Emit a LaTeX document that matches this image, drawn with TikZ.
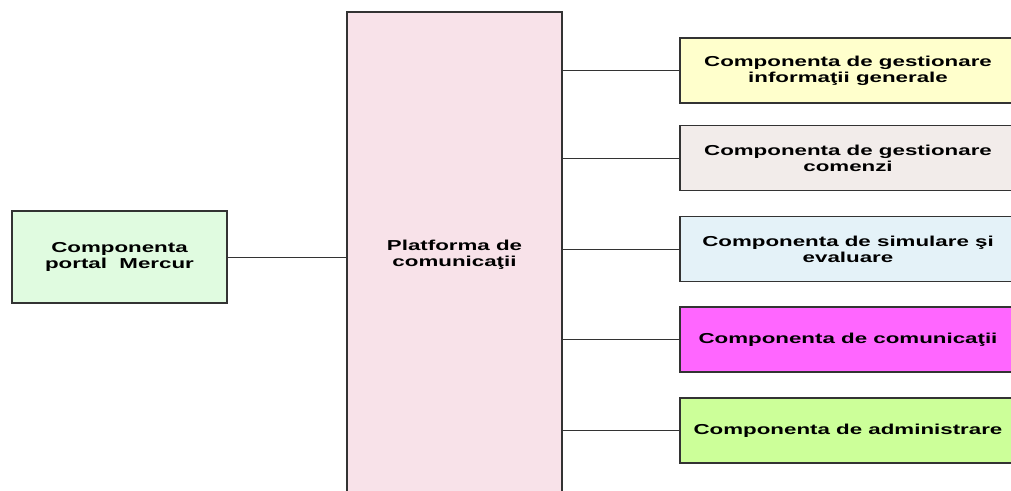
\documentclass[tikz,border=0pt]{standalone}
\usepackage{fontspec}
\newfontfamily\boxfont[FakeStretch=1.55]{Liberation Sans Bold}
\definecolor{cgreen}{HTML}{E0FBE0}
\definecolor{cpink}{HTML}{F8E2E9}
\definecolor{cyellow}{HTML}{FFFFCC}
\definecolor{cbeige}{HTML}{F2ECEA}
\definecolor{cblue}{HTML}{E4F2F8}
\definecolor{cmag}{HTML}{FF66FF}
\definecolor{clime}{HTML}{CCFF99}
\definecolor{cedge}{HTML}{333333}
\begin{document}
\begin{tikzpicture}[x=1pt,y=-1pt,
  comp/.style={draw=cedge, line width=1.4pt, rectangle, inner sep=0pt, align=center,
    font=\boxfont\fontsize{14.4}{16}\selectfont, text=black},
  link/.style={draw=cedge, line width=0.9pt}]
\useasboundingbox (0,0) rectangle (1011,490);
\clip (0,0) rectangle (1011,490);
\node[comp, fill=cgreen, minimum width=215pt, minimum height=92pt] (portal) at (119.5,257) {Componenta\\portal\ \ Mercur};
\node[comp, fill=cpink, minimum width=215pt, minimum height=486pt] (platf) at (454.5,255) {Platforma de\\comunica\c{t}ii};
\node[comp, fill=cyellow, minimum width=336pt, minimum height=65pt] (c1) at (848,70.5) {Componenta de gestionare\\informa\c{t}ii generale};
\node[comp, fill=cbeige, minimum width=336pt, minimum height=65pt] (c2) at (848,158) {Componenta de gestionare\\comenzi};
\node[comp, fill=cblue, minimum width=336pt, minimum height=65pt] (c3) at (848,249) {Componenta de simulare \c{s}i\\evaluare};
\node[comp, fill=cmag, minimum width=336pt, minimum height=65pt] (c4) at (848,339.5) {Componenta de comunica\c{t}ii};
\node[comp, fill=clime, minimum width=336pt, minimum height=65pt] (c5) at (848,430.5) {Componenta de administrare};
\draw[link] (portal.east) -- (portal.east -| platf.west);
\foreach \n in {c1,c2,c3,c4,c5}{
  \draw[link] (\n.west -| platf.east) -- (\n.west);
}
\end{tikzpicture}
\end{document}
